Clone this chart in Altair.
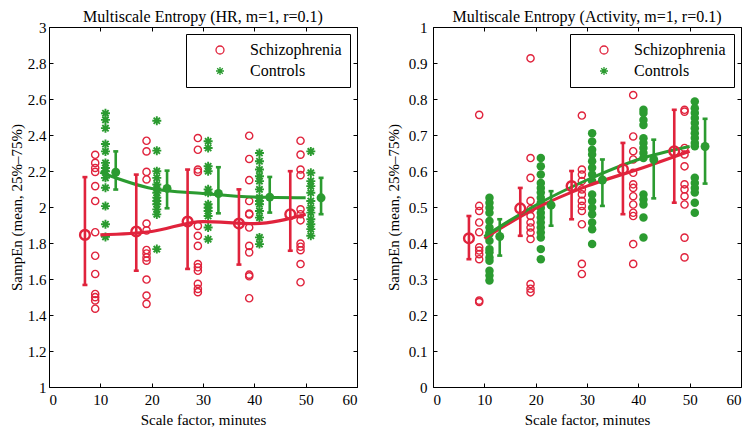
import altair as alt
import pandas as pd

# ---------------- data ----------------
SCALES = [10, 20, 30, 40, 50]
GROUPS = ["Schizophrenia", "Controls"]
X_TICKS = [0, 10, 20, 30, 40, 50, 60]
HR_TICKS = [1, 1.2, 1.4, 1.6, 1.8, 2, 2.2, 2.4, 2.6, 2.8, 3]
ACT_TICKS = [0, 0.1, 0.2, 0.3, 0.4, 0.5, 0.6, 0.7, 0.8, 0.9, 1]

# HR panel: individual subjects per scale factor
hr_sz_points = [
    [2.29, 2.245, 2.217, 2.195, 2.116, 2.033, 1.86, 1.729, 1.628, 1.517, 1.499, 1.481, 1.435],
    [2.368, 2.309, 2.195, 2.153, 1.908, 1.87, 1.761, 1.742, 1.72, 1.702, 1.597, 1.508, 1.462],
    [2.383, 2.318, 2.208, 2.195, 1.895, 1.84, 1.784, 1.683, 1.665, 1.646, 1.573, 1.545, 1.527],
    [2.396, 2.267, 2.149, 2.033, 1.963, 1.959, 1.886, 1.784, 1.748, 1.624, 1.615, 1.493],
    [2.368, 2.291, 2.208, 2.177, 1.987, 1.96, 1.926, 1.797, 1.779, 1.76, 1.683, 1.582],
]
hr_ctrl_points = [
    [2.521, 2.484, 2.438, 2.35, 2.309, 2.245, 2.217, 2.199, 2.162, 2.107, 2.005, 1.904, 1.834],
    [2.479, 2.313, 2.199, 2.162, 2.125, 2.103, 2.079, 2.052, 2.033, 2.015, 1.987, 1.959, 1.766],
    [2.365, 2.328, 2.226, 2.199, 2.098, 2.079, 2.015, 1.996, 1.978, 1.95, 1.886, 1.821],
    [2.3, 2.254, 2.208, 2.171, 2.144, 2.098, 2.052, 2.033, 2.015, 1.978, 1.941, 1.831, 1.794],
    [2.309, 2.19, 2.144, 2.116, 2.079, 2.033, 1.996, 1.969, 1.932, 1.904, 1.877, 1.84],
]
hr_sz_mean = [1.845, 1.864, 1.919, 1.908, 1.96]
hr_sz_q25 = [1.567, 1.646, 1.656, 1.68, 1.757]
hr_sz_q75 = [2.166, 2.18, 2.208, 2.098, 2.199]
hr_ctrl_mean = [2.193, 2.103, 2.075, 2.055, 2.051]
hr_ctrl_q25 = [2.097, 1.993, 1.965, 1.969, 1.96]
hr_ctrl_q75 = [2.309, 2.202, 2.221, 2.167, 2.162]

# Activity panel
act_sz_points = [
    [0.756, 0.503, 0.489, 0.457, 0.43, 0.388, 0.379, 0.369, 0.355, 0.24, 0.236],
    [0.913, 0.636, 0.581, 0.517, 0.494, 0.475, 0.457, 0.443, 0.429, 0.411, 0.286, 0.273, 0.263],
    [0.754, 0.604, 0.59, 0.572, 0.549, 0.535, 0.517, 0.503, 0.489, 0.452, 0.342, 0.314],
    [0.811, 0.696, 0.655, 0.632, 0.595, 0.563, 0.553, 0.53, 0.507, 0.484, 0.475, 0.397, 0.342],
    [0.855, 0.77, 0.765, 0.664, 0.646, 0.613, 0.563, 0.549, 0.53, 0.507, 0.415, 0.36],
]
act_ctrl_points = [
    [0.526, 0.512, 0.498, 0.484, 0.461, 0.443, 0.429, 0.425, 0.406, 0.383, 0.374, 0.36, 0.351, 0.323, 0.31, 0.296],
    [0.636, 0.613, 0.59, 0.567, 0.553, 0.54, 0.526, 0.512, 0.498, 0.484, 0.471, 0.457, 0.443, 0.429, 0.415, 0.383, 0.355],
    [0.705, 0.682, 0.659, 0.646, 0.627, 0.609, 0.59, 0.572, 0.535, 0.517, 0.498, 0.48, 0.457, 0.438, 0.397],
    [0.77, 0.761, 0.742, 0.728, 0.691, 0.678, 0.664, 0.65, 0.636, 0.535, 0.521, 0.507, 0.471, 0.415],
    [0.793, 0.774, 0.761, 0.747, 0.733, 0.719, 0.705, 0.692, 0.678, 0.669, 0.581, 0.567, 0.553, 0.54, 0.512, 0.484],
]
act_sz_mean = [0.413, 0.496, 0.558, 0.605, 0.655]
act_sz_q25 = [0.355, 0.42, 0.466, 0.48, 0.512]
act_sz_q75 = [0.475, 0.553, 0.6, 0.678, 0.77]
act_ctrl_mean = [0.418, 0.505, 0.575, 0.632, 0.668]
act_ctrl_q25 = [0.365, 0.448, 0.503, 0.524, 0.565]
act_ctrl_q75 = [0.466, 0.544, 0.632, 0.687, 0.745]

# ---------------- style ----------------
RED = "#e0233c"
GREEN = "#2b9b30"
FONT = "Liberation Serif"
ASTER = "M-1,0L1,0M0,-1L0,1M-0.7,-0.7L0.7,0.7M-0.7,0.7L0.7,-0.7"
W, H = 308, 360
TICK = 4


def points_df(lists, shift):
    rows = []
    for s, vals in zip(SCALES, lists):
        for v in vals:
            rows.append({"x": s + shift, "v": v})
    return pd.DataFrame(rows)


def stats_df(mean, lo, hi, shift):
    return pd.DataFrame({
        "s": SCALES,
        "x": [s + shift for s in SCALES],
        "mean": mean, "lo": lo, "hi": hi,
    })


def panel(title, ydom, yticks, sz_pts, ctrl_pts, szm, szlo, szhi, cm, clo, chi,
          asterisk, lab_pad, tit_pad):
    xs = alt.Scale(domain=[0, 60], nice=False, zero=False)
    ys = alt.Scale(domain=ydom, nice=False, zero=False)

    ax_bottom = alt.Axis(orient="bottom", values=X_TICKS, offset=-TICK, tickSize=TICK,
                         domain=False, labelPadding=5, titlePadding=5, format="d",
                         grid=False)
    ax_top = alt.Axis(orient="top", values=X_TICKS, offset=-TICK, tickSize=TICK,
                      domain=False, labels=False, grid=False)
    ay_left = alt.Axis(orient="left", values=yticks, offset=-TICK, tickSize=TICK,
                       domain=False, labelPadding=lab_pad, titlePadding=tit_pad,
                       format="~g", grid=False)
    ay_right = alt.Axis(orient="right", values=yticks, offset=-TICK, tickSize=TICK,
                        domain=False, labels=False, grid=False)

    sz_df = points_df(sz_pts, -1)
    ct_df = points_df(ctrl_pts, 1)
    szs = stats_df(szm, szlo, szhi, -3)
    cts = stats_df(cm, clo, chi, 3)

    red_pts = alt.Chart(sz_df).mark_point(
        shape="circle", filled=False, color=RED, size=52, strokeWidth=1.4, opacity=1
    ).encode(
        x=alt.X("x:Q", scale=xs, axis=ax_bottom, title="Scale factor, minutes"),
        y=alt.Y("v:Q", scale=ys, axis=ay_left, title="SampEn (mean, 25%–75%)"),
    )
    if asterisk:
        green_mark = alt.Chart(ct_df).mark_point(
            shape=ASTER, filled=False, color=GREEN, size=81, strokeWidth=1.9, opacity=1)
    else:
        green_mark = alt.Chart(ct_df).mark_point(
            shape="circle", filled=True, color=GREEN, size=72, opacity=1)
    green_pts = green_mark.encode(
        x=alt.X("x:Q", scale=xs, axis=ax_top, title=None),
        y=alt.Y("v:Q", scale=ys, axis=ay_right, title=None),
    )

    def line(df, color, sw):
        return alt.Chart(df).mark_line(color=color, strokeWidth=sw, interpolate="monotone").encode(
            x=alt.X("s:Q", scale=xs, axis=None),
            y=alt.Y("mean:Q", scale=ys, axis=None),
        )

    def bars(df, color, sw):
        rule = alt.Chart(df).mark_rule(color=color, strokeWidth=sw).encode(
            x=alt.X("x:Q", scale=xs, axis=None),
            y=alt.Y("lo:Q", scale=ys, axis=None),
            y2="hi:Q",
        )
        caps = alt.Chart(df).transform_fold(["lo", "hi"], as_=["end", "yv"]).mark_tick(
            color=color, orient="horizontal", size=5, thickness=sw, opacity=1
        ).encode(
            x=alt.X("x:Q", scale=xs, axis=None),
            y=alt.Y("yv:Q", scale=ys, axis=None),
        )
        return rule + caps

    red_mean = alt.Chart(szs).mark_point(
        shape="circle", filled=False, color=RED, size=95, strokeWidth=2.4, opacity=1
    ).encode(
        x=alt.X("x:Q", scale=xs, axis=None),
        y=alt.Y("mean:Q", scale=ys, axis=None),
    )
    green_mean = alt.Chart(cts).mark_point(
        shape="circle", filled=True, color=GREEN, size=80, opacity=1
    ).encode(
        x=alt.X("x:Q", scale=xs, axis=None),
        y=alt.Y("mean:Q", scale=ys, axis=None),
    )

    leg = dict(title=None, orient="top-right", offset=7, padding=8,
               strokeColor="black", fillColor="white", labelFont=FONT,
               labelFontSize=16, labelColor="black", symbolSize=64,
               symbolStrokeWidth=1.3, symbolOffset=18, labelOffset=22,
               rowPadding=5)
    legend_layer = alt.Chart(pd.DataFrame({"group": GROUPS})).mark_point(
        filled=False, strokeWidth=1.3, opacity=1
    ).encode(
        color=alt.Color("group:N", scale=alt.Scale(domain=GROUPS, range=[RED, GREEN]),
                        legend=alt.Legend(**leg)),
        shape=alt.Shape("group:N", scale=alt.Scale(domain=GROUPS, range=["circle", ASTER]),
                        legend=alt.Legend(**leg)),
    ).transform_filter("false")

    return alt.layer(
        red_pts, green_pts,
        line(szs, RED, 3.2), line(cts, GREEN, 3.0),
        bars(szs, RED, 2.6), bars(cts, GREEN, 2.6),
        red_mean, green_mean, legend_layer,
    ).resolve_axis(x="independent", y="independent").properties(
        width=W, height=H,
        title=alt.Title(title, font=FONT, fontSize=16, fontWeight="normal",
                        color="black", offset=-5, anchor="middle", frame="group"),
    )


left = panel("Multiscale Entropy (HR, m=1, r=0.1)", [1, 3], HR_TICKS,
             hr_sz_points, hr_ctrl_points,
             hr_sz_mean, hr_sz_q25, hr_sz_q75,
             hr_ctrl_mean, hr_ctrl_q25, hr_ctrl_q75, True, 3, 3)
right = panel("Multiscale Entropy (Activity, m=1, r=0.1)", [0, 1], ACT_TICKS,
              act_sz_points, act_ctrl_points,
              act_sz_mean, act_sz_q25, act_sz_q75,
              act_ctrl_mean, act_ctrl_q25, act_ctrl_q75, False, 6, 7)

chart = alt.hconcat(left, right, spacing=27).resolve_scale(
    color="independent", shape="independent"
).resolve_legend(
    color="independent", shape="independent"
).properties(
    padding={"left": 0, "top": 0, "right": 0, "bottom": 0}
).configure_view(
    stroke="black", strokeWidth=1
).configure_axis(
    labelFont=FONT, labelFontSize=15, labelColor="black",
    titleFont=FONT, titleFontSize=15, titleFontWeight="normal", titleColor="black",
    tickColor="black", tickWidth=1, grid=False,
).configure_legend(
    labelFont=FONT, labelFontSize=16, labelColor="black",
)

chart.save("out.html", embed_options={"renderer": "svg", "actions": False})
